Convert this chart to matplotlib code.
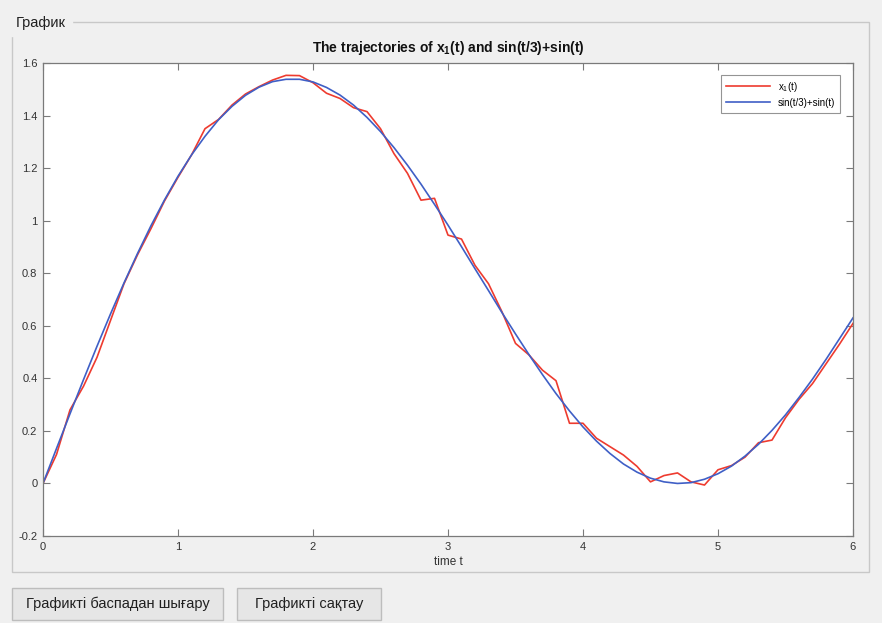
import matplotlib
matplotlib.use("Agg")
import matplotlib.pyplot as plt
from matplotlib.patches import Rectangle, FancyBboxPatch

# time grid and the two trajectories
timeValues = [0.0, 0.1, 0.2, 0.3, 0.4, 0.5, 0.6, 0.7, 0.8, 0.9,
              1.0, 1.1, 1.2, 1.3, 1.4, 1.5, 1.6, 1.7, 1.8, 1.9,
              2.0, 2.1, 2.2, 2.3, 2.4, 2.5, 2.6, 2.7, 2.8, 2.9,
              3.0, 3.1, 3.2, 3.3, 3.4, 3.5, 3.6, 3.7, 3.8, 3.9,
              4.0, 4.1, 4.2, 4.3, 4.4, 4.5, 4.6, 4.7, 4.8, 4.9,
              5.0, 5.1, 5.2, 5.3, 5.4, 5.5, 5.6, 5.7, 5.8, 5.9, 6.0]
x1Values = [0.0, 0.11, 0.28, 0.37, 0.48, 0.62, 0.76, 0.87, 0.97, 1.075,
            1.165, 1.25, 1.35, 1.385, 1.44, 1.482, 1.51, 1.535, 1.553, 1.552,
            1.525, 1.485, 1.465, 1.43, 1.415, 1.35, 1.255, 1.18, 1.078, 1.085,
            0.945, 0.93, 0.83, 0.76, 0.653, 0.533, 0.489, 0.431, 0.391, 0.229,
            0.229, 0.172, 0.14, 0.108, 0.065, 0.006, 0.03, 0.04, 0.006, -0.006,
            0.052, 0.068, 0.10, 0.155, 0.165, 0.25, 0.32, 0.38, 0.455, 0.53, 0.609]
sinValues = [0.0, 0.133, 0.265, 0.395, 0.522, 0.645, 0.763, 0.875, 0.981, 1.079,
             1.169, 1.250, 1.321, 1.384, 1.435, 1.477, 1.508, 1.529, 1.538, 1.538,
             1.528, 1.507, 1.478, 1.440, 1.393, 1.339, 1.278, 1.211, 1.139, 1.062,
             0.983, 0.901, 0.817, 0.734, 0.650, 0.569, 0.490, 0.414, 0.342, 0.276,
             0.215, 0.161, 0.114, 0.074, 0.043, 0.020, 0.006, 0.000, 0.003, 0.016,
             0.037, 0.066, 0.104, 0.149, 0.202, 0.261, 0.327, 0.397, 0.472, 0.551, 0.630]

xTicks = [0, 1, 2, 3, 4, 5, 6]
yTicks = [-0.2, 0, 0.2, 0.4, 0.6, 0.8, 1, 1.2, 1.4, 1.6]
yTickLabels = ["-0.2", "0", "0.2", "0.4", "0.6", "0.8", "1", "1.2", "1.4", "1.6"]

panelTitle = "График"
buttonLabels = ["Графикті баспадан шығару", "Графикті сақтау"]

plt.rcParams["font.family"] = ["Liberation Sans", "DejaVu Sans"]
plt.rcParams["mathtext.fontset"] = "custom"
plt.rcParams["mathtext.rm"] = "Liberation Sans"
plt.rcParams["mathtext.bf"] = "Liberation Sans:bold"

W, H = 882, 623
bgColor = "#f0f0f0"
fig = plt.figure(figsize=(W / 100, H / 100), dpi=100, facecolor=bgColor)

def px(x0, y0, x1, y1):
    # pixel box (top-left origin) -> figure fraction rect
    return [x0 / W, 1 - y1 / H, (x1 - x0) / W, (y1 - y0) / H]

# panel frame
r = px(12, 22, 869, 572)
fig.patches.append(Rectangle((r[0], r[1]), r[2], r[3], transform=fig.transFigure,
                             fill=False, edgecolor="#c8c8c8", lw=1.0))
fig.text(16 / W, 1 - 23 / H, panelTitle, fontsize=10.5, color="#202020",
         va="center", ha="left", backgroundcolor=bgColor)

# buttons
buttonBoxes = [(12, 588, 223, 620), (237, 588, 381, 620)]
for (bx0, by0, bx1, by1), label in zip(buttonBoxes, buttonLabels):
    b = px(bx0, by0, bx1, by1)
    fig.patches.append(FancyBboxPatch((b[0], b[1]), b[2], b[3], transform=fig.transFigure,
                                      boxstyle="square,pad=0", facecolor="#e6e6e6",
                                      edgecolor="#bdbdbd", lw=1.0))
    fig.text(b[0] + b[2] / 2, b[1] + b[3] / 2, label, fontsize=10.5, color="#202020",
             ha="center", va="center")

ax = fig.add_axes(px(43, 63, 853, 536))
ax.set_facecolor("white")
ax.plot(timeValues, x1Values, color="#ee3b2f", lw=1.2, label=r"x$_1$(t)")
ax.plot(timeValues, sinValues, color="#3f5fc6", lw=1.2, label="sin(t/3)+sin(t)")

ax.set_xlim(0, 6)
ax.set_ylim(-0.2, 1.6)
ax.set_xticks(xTicks)
ax.set_yticks(yTicks)
ax.set_yticklabels(yTickLabels)
ax.tick_params(direction="in", length=5, width=0.8, colors="#7a7a7a",
               labelcolor="#333333", labelsize=8, top=True, right=True, pad=4)
for s in ax.spines.values():
    s.set_color("#7a7a7a")
    s.set_linewidth(0.9)

ax.set_title(r"The trajectories of x$_\mathbf{1}$(t) and sin(t/3)+sin(t)",
             fontsize=10, fontweight="bold", color="#111111", pad=8)
ax.set_xlabel("time t", fontsize=8.5, color="#333333", labelpad=3)

leg = ax.legend(loc="upper right", fontsize=7, frameon=True, fancybox=False,
                handlelength=4.5, borderpad=0.5, labelspacing=0.4,
                bbox_to_anchor=(0.99, 0.985))
leg.get_frame().set_edgecolor("#7a7a7a")
leg.get_frame().set_linewidth(0.8)

fig.savefig("out.png", dpi=100, facecolor=bgColor)
